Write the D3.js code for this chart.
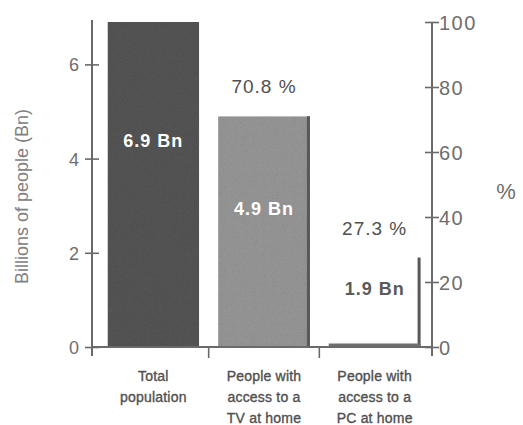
<!DOCTYPE html>
<html>
<head>
<meta charset="utf-8">
<script src="https://cdn.jsdelivr.net/npm/d3@7"></script>
<style>
  html, body { margin: 0; padding: 0; background: #fff; }
  svg { display: block; font-family: "Liberation Sans", Arial, Helvetica, sans-serif; }
</style>
</head>
<body>
<svg id="chart" width="523" height="425"></svg>
<script>
// Population and home media access, billions of people
const categories = ["Total population", "TV at home", "PC at home"];
const categoryLines = [
  ["Total", "population"],
  ["People with", "access to a", "TV at home"],
  ["People with", "access to a", "PC at home"]
];
const billions = [6.9, 4.9, 1.9];
const valueLabels = ["6.9 Bn", "4.9 Bn", "1.9 Bn"];
const shareLabels = [null, "70.8 %", "27.3 %"];
const leftTicks = [0, 2, 4, 6];
const rightTicks = [0, 20, 40, 60, 80, 100];

const svg = d3.select("#chart");

const plot = { left: 92, right: 432, top: 22, bottom: 347 };

// Total population equals 100 % on the right axis
const y = d3.scaleLinear().domain([0, 6.9]).range([plot.bottom, plot.top]);
const yPct = d3.scaleLinear().domain([0, 100]).range([plot.bottom, plot.top]);
const x = d3.scaleBand().domain(categories)
  .range([plot.left + 6, plot.right - 2])
  .paddingInner(0.17).paddingOuter(0.085);

const axisColor = "#6a6a6a";
const textColor = "#505050";

const rows = billions.map((v, i) => ({
  cat: categories[i], v, i,
  lines: categoryLines[i], value: valueLabels[i], share: shareLabels[i]
}));

// bar grain
const defs = svg.append("defs");
const grain = defs.append("filter").attr("id", "grain")
  .attr("x", 0).attr("y", 0).attr("width", 1).attr("height", 1);
grain.append("feTurbulence").attr("type", "fractalNoise")
  .attr("baseFrequency", 0.9).attr("numOctaves", 2).attr("seed", 3).attr("result", "noise");
grain.append("feColorMatrix").attr("in", "noise").attr("type", "matrix")
  .attr("values", "0.45 0 0 0 0.78  0.45 0 0 0 0.78  0.45 0 0 0 0.78  0 0 0 0 1")
  .attr("result", "gray");
grain.append("feBlend").attr("in", "SourceGraphic").attr("in2", "gray").attr("mode", "multiply").attr("result", "mix");
grain.append("feComposite").attr("in", "mix").attr("in2", "SourceGraphic").attr("operator", "in");

const barFill = ["#525252", "#939393", "#ffffff"];

// bars
const bars = svg.append("g");
bars.selectAll("rect").data(rows).join("rect")
  .attr("x", d => x(d.cat))
  .attr("y", d => y(d.v))
  .attr("width", x.bandwidth())
  .attr("height", d => y(0) - y(d.v))
  .attr("fill", d => barFill[d.i])
  .attr("filter", d => d.i < 2 ? "url(#grain)" : null);

// darker right edge on the access bars
bars.selectAll("line.edge").data(rows.slice(1)).join("line")
  .attr("class", "edge")
  .attr("x1", d => x(d.cat) + x.bandwidth() - 1.5)
  .attr("x2", d => x(d.cat) + x.bandwidth() - 1.5)
  .attr("y1", d => y(d.v))
  .attr("y2", y(0))
  .attr("stroke", "#585858").attr("stroke-width", 3);

// bottom rule of the PC bar
bars.append("line")
  .attr("x1", x(categories[2])).attr("x2", x(categories[2]) + x.bandwidth())
  .attr("y1", y(0) - 2).attr("y2", y(0) - 2)
  .attr("stroke", "#6e6e6e").attr("stroke-width", 3);

// left axis
const gl = svg.append("g").attr("transform", `translate(${plot.left},0)`);
gl.call(d3.axisLeft(y).tickValues(leftTicks).tickSize(7).tickFormat(d3.format("d")));
gl.select(".domain").remove();
gl.selectAll(".tick line").attr("x1", -7).attr("x2", 7)
  .attr("stroke", axisColor).attr("stroke-width", 1.6);
gl.selectAll(".tick text").attr("x", -13).attr("dy", "0.36em")
  .attr("fill", "#6e6e6e").style("font-size", "18px");
gl.append("line").attr("x1", 0).attr("x2", 0)
  .attr("y1", plot.top - 2).attr("y2", plot.bottom + 9)
  .attr("stroke", axisColor).attr("stroke-width", 2);

// right axis
const gr = svg.append("g").attr("transform", `translate(${plot.right},0)`);
gr.call(d3.axisRight(yPct).tickValues(rightTicks).tickSize(7));
gr.select(".domain").remove();
gr.selectAll(".tick line").attr("x1", -7).attr("x2", 7)
  .attr("stroke", axisColor).attr("stroke-width", 1.6);
gr.selectAll(".tick text").attr("x", 7).attr("dy", "0.36em")
  .attr("fill", "#6e6e6e").style("font-size", "20px").style("letter-spacing", "1.5px");
gr.append("line").attr("x1", 0).attr("x2", 0)
  .attr("y1", plot.top).attr("y2", plot.bottom + 9)
  .attr("stroke", axisColor).attr("stroke-width", 2);

// baseline with category dividers
svg.append("line")
  .attr("x1", plot.left).attr("x2", plot.right)
  .attr("y1", plot.bottom).attr("y2", plot.bottom)
  .attr("stroke", axisColor).attr("stroke-width", 2);
const dividers = rows.slice(1).map(d => x(d.cat) - x.step() * x.paddingInner() / 2);
svg.append("g").selectAll("line").data(dividers).join("line")
  .attr("x1", d => d).attr("x2", d => d)
  .attr("y1", plot.bottom).attr("y2", plot.bottom + 11)
  .attr("stroke", axisColor).attr("stroke-width", 1.6);

// category labels
const cl = svg.append("g").selectAll("text").data(rows).join("text")
  .attr("x", d => x(d.cat) + x.bandwidth() / 2)
  .attr("y", 381)
  .attr("text-anchor", "middle")
  .attr("fill", textColor)
  .attr("stroke", textColor).attr("stroke-width", 0.35)
  .style("font-size", "14px").style("letter-spacing", "0.2px");
cl.selectAll("tspan").data(d => d.lines.map(t => ({ t, cx: x(d.cat) + x.bandwidth() / 2 }))).join("tspan")
  .attr("x", s => s.cx)
  .attr("dy", (s, j) => j === 0 ? 0 : 21)
  .text(s => s.t);

// value labels inside / beside bars
const labelFrac = [0.635, 0.6, 0.65];
svg.append("g").selectAll("text").data(rows).join("text")
  .attr("x", d => x(d.cat) + x.bandwidth() / 2)
  .attr("y", d => y(d.v * labelFrac[d.i]) + 6)
  .attr("text-anchor", "middle")
  .attr("fill", d => d.i < 2 ? "#ffffff" : "#5a5a5a")
  .style("font-size", "18px").style("font-weight", "bold").style("letter-spacing", "1px")
  .text(d => d.value);

// share labels above the access bars
svg.append("g").selectAll("text").data(rows.filter(d => d.share !== null)).join("text")
  .attr("x", d => x(d.cat) + x.bandwidth() / 2)
  .attr("y", d => y(d.v) - 23)
  .attr("text-anchor", "middle")
  .attr("fill", textColor)
  .style("font-size", "19px").style("letter-spacing", "1px")
  .text(d => d.share);

// axis titles
svg.append("text")
  .attr("transform", `translate(28,${(plot.top + plot.bottom) / 2 + 12}) rotate(-90)`)
  .attr("text-anchor", "middle")
  .attr("fill", "#808080")
  .style("font-size", "18px")
  .text("Billions of people (Bn)");
svg.append("text")
  .attr("x", 506).attr("y", 199)
  .attr("text-anchor", "middle")
  .attr("fill", "#6e6e6e")
  .style("font-size", "22px")
  .text("%");
</script>
</body>
</html>
